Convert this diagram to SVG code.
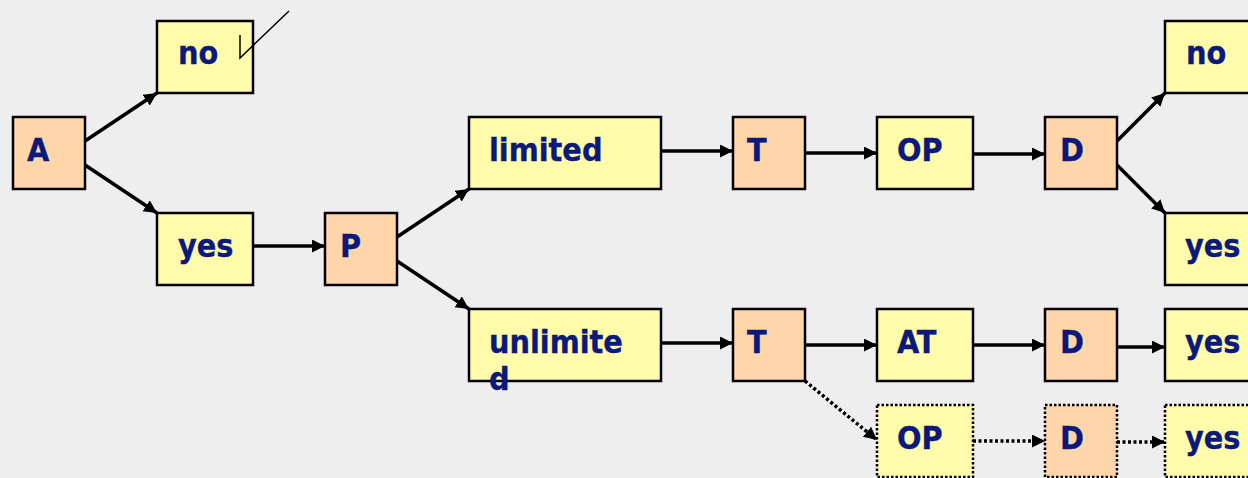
<svg xmlns="http://www.w3.org/2000/svg" width="1248" height="478" viewBox="0 0 1248 478">
<defs>
<marker id="arr" markerUnits="userSpaceOnUse" markerWidth="15" markerHeight="15" refX="13" refY="6.5" orient="auto">
<path d="M0,0 L13,6.5 L0,13 z" fill="#000"/>
</marker>
<style>
.y{fill:#FFFBAA;stroke:#000;stroke-width:2.5}
.o{fill:#FFD6AA;stroke:#000;stroke-width:2.5}
.d{stroke-dasharray:2.5 2}
.t{font-family:"DejaVu Sans Condensed","DejaVu Sans",sans-serif;font-stretch:condensed;font-weight:bold;font-size:32px;fill:#0A1A7C;stroke:#0A1A7C;stroke-width:0.35}
.c{stroke:#000;stroke-width:3.5;fill:none;marker-end:url(#arr)}
.c.dot{stroke-dasharray:3 2.5}
</style>
</defs>
<rect width="1248" height="478" fill="#EEEEEE"/>
<g id="connectors">
<line class="c" x1="85" y1="141" x2="157" y2="93"/>
<line class="c" x1="85" y1="165" x2="157" y2="213"/>
<line class="c" x1="253" y1="246" x2="325" y2="246"/>
<line class="c" x1="397" y1="237" x2="469" y2="189"/>
<line class="c" x1="397" y1="261" x2="469" y2="309"/>
<line class="c" x1="661" y1="151" x2="733" y2="151"/>
<line class="c" x1="805" y1="153" x2="877" y2="153"/>
<line class="c" x1="973" y1="154" x2="1045" y2="154"/>
<line class="c" x1="1117" y1="141" x2="1165" y2="93"/>
<line class="c" x1="1117" y1="165" x2="1165" y2="213"/>
<line class="c" x1="661" y1="343" x2="733" y2="343"/>
<line class="c" x1="805" y1="345" x2="877" y2="345"/>
<line class="c" x1="973" y1="345" x2="1045" y2="345"/>
<line class="c" x1="1117" y1="347" x2="1165" y2="347"/>
<line class="c dot" x1="805" y1="381" x2="877" y2="440"/>
<line class="c dot" x1="973" y1="441" x2="1045" y2="441"/>
<line class="c dot" x1="1117" y1="442" x2="1165" y2="442"/>
</g>
<g id="A"><rect class="o" x="13" y="117" width="72" height="72"/><text class="t" x="27" y="161">A</text></g>
<g id="no1"><rect class="y" x="157" y="21" width="96" height="72"/><text class="t" x="178" y="64">no</text></g>
<g id="yes1"><rect class="y" x="157" y="213" width="96" height="72"/><text class="t" x="178" y="257">yes</text></g>
<g id="P"><rect class="o" x="325" y="213" width="72" height="72"/><text class="t" x="340" y="257">P</text></g>
<g id="limited"><rect class="y" x="469" y="117" width="192" height="72"/><text class="t" x="489" y="161">limited</text></g>
<g id="unlimited"><rect class="y" x="469" y="309" width="192" height="72"/><text class="t" x="489" y="353">unlimite</text><text class="t" x="489" y="390">d</text></g>
<g id="T1"><rect class="o" x="733" y="117" width="72" height="72"/><text class="t" x="747" y="161">T</text></g>
<g id="OP1"><rect class="y" x="877" y="117" width="96" height="72"/><text class="t" x="897" y="161">OP</text></g>
<g id="D1"><rect class="o" x="1045" y="117" width="72" height="72"/><text class="t" x="1060" y="161">D</text></g>
<g id="no2"><rect class="y" x="1165" y="21" width="96" height="72"/><text class="t" x="1186" y="64">no</text></g>
<g id="yes2"><rect class="y" x="1165" y="213" width="96" height="72"/><text class="t" x="1185" y="257">yes</text></g>
<g id="T2"><rect class="o" x="733" y="309" width="72" height="72"/><text class="t" x="747" y="353">T</text></g>
<g id="AT"><rect class="y" x="877" y="309" width="96" height="72"/><text class="t" x="897" y="353">AT</text></g>
<g id="D2"><rect class="o" x="1045" y="309" width="72" height="72"/><text class="t" x="1060" y="353">D</text></g>
<g id="yes3"><rect class="y" x="1165" y="309" width="96" height="72"/><text class="t" x="1185" y="353">yes</text></g>
<g id="OP2"><rect class="y d" x="877" y="405" width="96" height="72"/><text class="t" x="897" y="449">OP</text></g>
<g id="D3"><rect class="o d" x="1045" y="405" width="72" height="72"/><text class="t" x="1060" y="449">D</text></g>
<g id="yes4"><rect class="y d" x="1165" y="405" width="96" height="72"/><text class="t" x="1185" y="449">yes</text></g>
<polyline id="tick" points="240,35 240,58 289,11" fill="none" stroke="#000" stroke-width="1.5"/>
</svg>
